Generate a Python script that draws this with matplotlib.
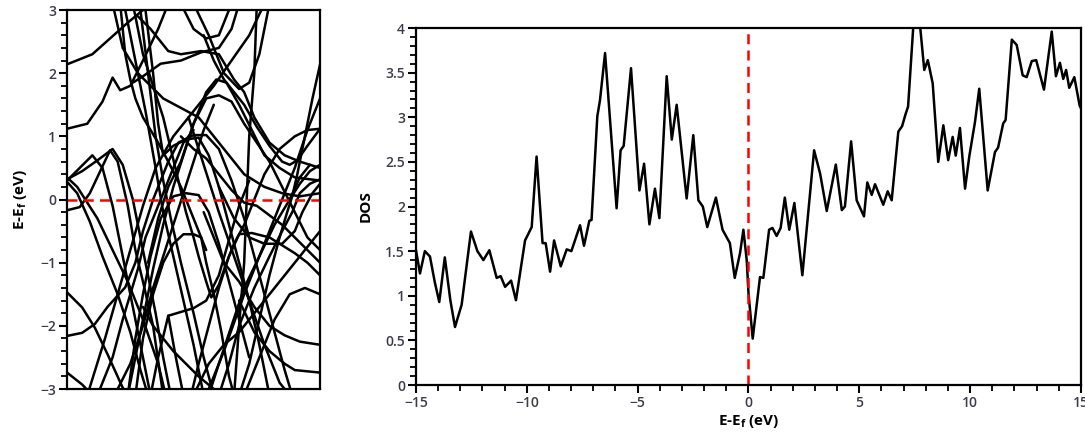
import matplotlib
matplotlib.use("Agg")
import matplotlib.pyplot as plt
from matplotlib.ticker import MultipleLocator, FuncFormatter

plt.rcParams['font.family'] = ['Open Sans', 'DejaVu Sans']

# density of states
dos_e = [-15.0, -14.82, -14.6, -14.37, -14.15, -13.95, -13.7, -13.45, -13.24, -12.94,
         -12.52, -12.23, -11.96, -11.69, -11.36, -11.18, -10.98, -10.71, -10.49, -10.08,
         -9.78, -9.56, -9.29, -9.15, -8.95, -8.77, -8.47, -8.2, -7.99, -7.6,
         -7.42, -7.18, -7.08, -6.82, -6.7, -6.47, -6.22, -5.95, -5.77, -5.63,
         -5.3, -4.92, -4.71, -4.47, -4.22, -4.02, -3.69, -3.46, -3.24, -2.79,
         -2.49, -2.26, -2.06, -1.86, -1.47, -1.17, -0.84, -0.62, -0.38, -0.23,
         -0.08, 0.0, 0.19, 0.52, 0.67, 0.93, 1.08, 1.27, 1.45, 1.64,
         1.84, 2.07, 2.43, 2.96, 3.23, 3.53, 3.94, 4.21, 4.35, 4.63,
         4.88, 5.21, 5.36, 5.56, 5.71, 6.08, 6.28, 6.46, 6.76, 6.93,
         7.08, 7.2, 7.43, 7.6, 7.75, 7.93, 8.09, 8.31, 8.56, 8.79,
         9.01, 9.21, 9.35, 9.54, 9.77, 9.96, 10.22, 10.41, 10.79, 11.12,
         11.26, 11.49, 11.6, 11.88, 12.1, 12.37, 12.55, 12.78, 12.98, 13.33,
         13.68, 13.87, 14.05, 14.2, 14.33, 14.47, 14.7, 14.94, 15.0]
dos_v = [1.51, 1.25, 1.50, 1.44, 1.15, 0.93, 1.43, 0.95, 0.65, 0.90,
         1.72, 1.50, 1.40, 1.51, 1.20, 1.22, 1.10, 1.17, 0.95, 1.62,
         1.77, 2.56, 1.59, 1.59, 1.27, 1.62, 1.33, 1.52, 1.50, 1.79,
         1.56, 1.84, 1.85, 3.01, 3.19, 3.72, 2.89, 1.98, 2.63, 2.68,
         3.55, 2.18, 2.48, 1.80, 2.20, 1.87, 3.46, 2.75, 3.14, 2.09,
         2.80, 2.07, 2.00, 1.77, 2.10, 1.74, 1.59, 1.20, 1.48, 1.74,
         1.40, 1.03, 0.52, 1.21, 1.20, 1.74, 1.76, 1.67, 1.76, 2.10,
         1.74, 2.04, 1.23, 2.63, 2.37, 1.95, 2.47, 1.96, 2.00, 2.73,
         2.07, 1.89, 2.27, 2.13, 2.25, 2.02, 2.17, 2.07, 2.84, 2.90,
         3.03, 3.12, 4.00, 4.35, 4.00, 3.53, 3.64, 3.38, 2.50, 2.91,
         2.52, 2.78, 2.57, 2.88, 2.20, 2.56, 2.95, 3.32, 2.18, 2.61,
         2.66, 2.93, 2.97, 3.87, 3.81, 3.47, 3.45, 3.63, 3.64, 3.31,
         3.96, 3.46, 3.61, 3.43, 3.53, 3.33, 3.45, 3.13, 3.10]

# bands: (k fraction, energy in eV)
bands = [
    ([0, .1, .17, .24, .3, .34], [2.14, 2.3, 2.55, 2.8, 3.0, 3.2]),
    ([0, .08, .14, .18, .21, .25, .3, .36, .4], [1.12, 1.2, 1.55, 1.93, 1.73, 1.8, 2.2, 2.7, 3.1]),
    ([0, .05, .09, .17, .2, .24, .27, .3, .34, .38], [-0.17, -0.12, 0.1, 0.78, 0.6, -0.1, -0.8, -1.3, -2.0, -3.1]),
    ([0, .06, .12, .18, .22, .26, .3, .35, .38, .41], [0.32, 0.45, 0.62, 0.8, 0.55, 0.0, -0.8, -1.8, -2.5, -3.1]),
    ([0, .04, .08, .12, .18, .24, .3, .36, .39], [0.35, 0.2, -0.05, -0.3, -0.8, -1.3, -1.9, -2.6, -3.1]),
    ([0, .04, .09, .14, .2, .25, .29, .32], [0.28, 0.1, -0.35, -0.9, -1.5, -2.1, -2.7, -3.1]),
    ([0, .06, .11, .16, .22, .26], [-1.47, -1.71, -2.03, -2.45, -2.98, -3.2]),
    ([0, .06, .11, .16, .23, .27, .3, .34, .4, .44, .5, .55, .6, .65, .7, .74, .78, .82, .86, .89],
     [-2.16, -2.11, -1.97, -1.7, -1.39, -1.0, -0.5, 0.0, 0.6, 0.9, 1.02, 1.02, 0.8, 0.3, -0.3, -0.9, -1.5,
      -2.1, -2.7, -3.1]),
    ([0, .06, .1], [-2.74, -2.93, -3.1]),
    ([.08, .15, .2, .25, .3, .35, .42, .5, .58, .65, .72, .78],
     [-3.1, -2.2, -1.5, -0.8, -0.1, 0.5, 1.0, 1.4, 1.8, 2.2, 2.6, 3.1]),
    ([.12, .18, .22, .25, .28, .31, .34, .38, .42, .46, .5],
     [-3.1, -2.5, -1.9, -1.5, -1.1, -0.6, -0.3, 0.1, 0.5, 0.9, 1.1]),
    ([.29, .32, .35, .38, .41, .45, .5, .54, .58], [3.0, 2.0, 1.0, 0.3, -0.3, -1.0, -1.8, -2.5, -3.1]),
    ([.31, .34, .36, .38, .42, .47, .52, .56, .6, .64, .68, .72, .76, .8],
     [3.0, 2.0, 1.2, 0.7, 0.85, 0.95, 0.98, 0.7, 0.2, -0.4, -1.0, -1.6, -2.3, -3.1]),
    ([.23, .27, .31, .35, .38, .42, .46, .5, .54], [3.0, 2.2, 1.4, 0.5, -0.2, -0.9, -1.6, -2.3, -3.1]),
    ([.21, .23, .25, .27, .3, .33, .36, .4, .45, .5, .55],
     [3.1, 2.3, 1.9, 1.6, 1.3, 1.1, 0.9, 0.6, 0.2, -0.3, -0.8]),
    ([.5, .56, .62, .68, .72, .76, .8], [3.1, 2.6, 2.0, 1.75, 1.85, 2.3, 3.1]),
    ([.45, .5, .55, .6, .65], [3.1, 2.7, 2.55, 2.6, 3.1]),
    ([.28, .33, .4, .45, .53, .6, .66, .7, .74, .8, .86, .92, .96],
     [2.9, 2.7, 2.35, 2.3, 2.35, 2.3, 1.9, 1.7, 1.3, 0.9, 0.7, 0.6, 0.55]),
    ([.26, .3, .37, .45, .53, .6, .65, .68], [1.85, 1.95, 2.15, 2.2, 2.33, 2.4, 2.7, 3.1]),
    ([.18, .22, .28, .33, .38, .45, .52, .58, .63, .7, .78, .85, .92, 1],
     [3.1, 2.4, 2.0, 1.8, 1.6, 1.45, 1.3, 1.0, 0.75, 0.4, 0.2, 0.1, 0.05, 0.1]),
    ([.32, .36, .4, .45, .5, .55, .6, .65, .7, .75, .8, .85, .9, .95, 1],
     [-1.0, -0.3, 0.2, 0.6, 1.2, 1.6, 1.65, 1.55, 1.2, 0.9, 0.6, 0.2, -0.2, -0.6, -0.8]),
    ([.24, .26, .3, .34, .38, .42, .46, .5, .55, .59, .63, .68, .73, .78, .84, .9, 1],
     [-3.1, -2.7, -1.9, -1.1, -0.4, 0.2, 0.7, 1.2, 1.7, 1.9, 1.85, 1.5, 1.1, 0.7, 0.5, 0.35, 0.3]),
    ([1, .97, .94, .91, .89, .87, .84, .8, .76, .72, .68],
     [2.14, 1.6, 1.0, 0.4, 0.05, -0.2, -0.6, -1.2, -1.9, -2.6, -3.1]),
    ([1, .95, .91, .88, .85, .8, .75, .7, .66, .62, .58, .54],
     [1.12, 0.85, 0.62, 0.55, 0.6, 0.85, 1.15, 1.5, 1.7, 1.9, 2.2, 2.6]),
    ([1, .96, .92, .88, .82, .76, .7, .65, .6, .56], [0.5, 0.55, 0.35, 0.0, -0.4, -0.9, -1.4, -2.0, -2.6, -3.1]),
    ([1, .96, .92, .89, .85, .8, .74, .68, .64, .6], [0.32, 0.25, 0.1, -0.2, -0.5, -0.9, -1.4, -2.0, -2.6, -3.1]),
    ([1, .97, .93, .9, .85, .78, .72, .66, .6], [0.25, 0.1, -0.2, -0.5, -0.7, -0.7, -0.6, -0.3, 0.2]),
    ([.45, .5, .55, .6, .65, .7, .75, .8, .85, .9, .95, 1],
     [1.0, 0.8, 0.65, 0.4, 0.15, -0.05, -0.1, -0.25, -0.4, -0.6, -0.8, -1.0]),
    ([.27, .3, .34, .38, .42, .46, .5, .53, .55, .58, .61, .64, .66],
     [-3.1, -2.2, -1.5, -1.0, -0.7, -0.55, -0.55, -0.6, -1.0, -1.5, -2.1, -2.8, -3.1]),
    ([.26, .3, .34, .38, .41, .44, .47, .5, .52, .55, .57, .6, .63, .66, .7, .74, .78, .84, .9, .95, 1],
     [3.1, 2.3, 1.8, 1.3, 0.8, 0.3, -0.2, -0.6, -0.9, -1.3, -1.55, -1.35, -1.0, -0.7, -0.4, 0.0, 0.4, 0.8,
      1.0, 1.1, 1.12]),
    ([.24, .27, .3, .33, .37, .42, .47, .52, .56, .6, .64, .68, .72],
     [-3.1, -2.2, -1.5, -0.9, -0.3, 0.05, 0.1, 0.07, -0.2, -0.7, -1.3, -1.9, -2.5]),
    ([.49, .52, .56, .6, .64, .68, .73, .8, .86, .9, .95, 1],
     [-3.1, -2.6, -2.0, -1.4, -0.9, -0.55, -0.53, -0.6, -0.75, -0.85, -1.0, -1.2]),
    ([.33, .36, .4, .45, .5, .55, .6, .65, .68, .72], [-3.1, -2.5, -1.84, -1.78, -1.72, -1.6, -1.2, -0.5, -0.1, 0.3]),
    ([.4, .43, .46], [-1.84, -2.5, -3.1]),
    ([.7, .76, .82, .88, .94, 1], [-3.1, -2.5, -1.9, -1.5, -1.4, -1.5]),
    ([.54, .58, .62, .68, .74, .8, .86, .92, 1], [-0.2, -0.6, -1.0, -1.3, -1.7, -2.0, -2.15, -2.25, -2.3]),
    ([.68, .74, .8, .86, .9, .95, 1], [-1.6, -2.1, -2.4, -2.6, -2.7, -2.72, -2.74]),
    ([.55, .62, .7, .78, .85, .9, .95, 1], [-3.1, -2.4, -1.5, -0.7, 0.0, 0.5, 1.1, 1.6]),
    ([.48, .52, .56, .6, .66, .72, .78, .84, .9], [1.3, 0.8, 0.3, -0.2, -0.9, -1.6, -2.3, -2.9, -3.2]),
    ([.5, .56, .62, .68, .74, .8, .86, .92, 1], [-3.1, -2.6, -2.3, -2.1, -1.8, -1.5, -1.2, -0.9, -0.5]),
    ([.3, .34, .38, .42, .47, .52, .58, .63], [-1.7, -2.0, -2.2, -2.4, -2.6, -2.8, -3.0, -3.1]),
    ([.2, .25, .3, .34, .38, .42, .46, .5, .54, .58], [-3.0, -2.6, -2.0, -1.4, -0.9, -0.4, 0.1, 0.6, 1.1, 1.5]),
    ([0, .05, .1, .14, .18, .22, .26, .3, .33], [0.3, 0.5, 0.7, 0.5, -0.1, -0.9, -1.7, -2.5, -3.1]),
    ([.75, .74, .72, .71, .7, .68, .66], [3.1, 2.0, 1.0, 0.0, -1.0, -2.0, -3.1]),
    ([.88, .92, .96, 1], [0.0, 0.25, 0.45, 0.55]),
]

tick_color = '#3c3c4e'

fig = plt.figure(figsize=(10.85, 4.45), dpi=100)

# band structure panel
ax1 = fig.add_axes([0.0618, 0.1258, 0.2332, 0.8517])
for kx, en in bands:
    ax1.plot(kx, en, color='black', lw=1.8, solid_joinstyle='round', solid_capstyle='round')
ax1.axhline(0, color='red', ls=(0, (4, 2.5)), lw=1.8)
ax1.set_xlim(0, 1)
ax1.set_ylim(-3, 3)
ax1.set_xticks([])
ax1.yaxis.set_major_locator(MultipleLocator(1))
ax1.yaxis.set_minor_locator(MultipleLocator(0.2))
ax1.set_ylabel('E-E$_\\mathregular{f}$ (eV)', fontsize=11, fontweight='bold', labelpad=8)

# DOS panel
ax2 = fig.add_axes([0.3834, 0.1348, 0.6129, 0.8022])
ax2.plot(dos_e, dos_v, color='black', lw=1.8, solid_joinstyle='round')
ax2.axvline(0, color='red', ls=(0, (4, 2.5)), lw=1.8)
ax2.set_xlim(-15, 15)
ax2.set_ylim(0, 4)
ax2.xaxis.set_major_locator(MultipleLocator(5))
ax2.xaxis.set_minor_locator(MultipleLocator(1))
ax2.yaxis.set_major_locator(MultipleLocator(0.5))
ax2.yaxis.set_minor_locator(MultipleLocator(0.1))
ax2.yaxis.set_major_formatter(FuncFormatter(lambda v, p: '%g' % v))
ax2.set_xlabel('E-E$_\\mathregular{f}$ (eV)', fontsize=11, fontweight='bold', labelpad=2)
ax2.set_ylabel('DOS', fontsize=11, fontweight='bold', labelpad=9)

for ax in (ax1, ax2):
    for s in ax.spines.values():
        s.set_linewidth(1.6)
    ax.tick_params(which='major', direction='out', length=6, width=1.5,
                   labelsize=10, labelcolor=tick_color, pad=2)
    ax.tick_params(which='minor', direction='out', length=4, width=1.3)
    for lab in ax.get_xticklabels() + ax.get_yticklabels():
        lab.set_fontweight('semibold')

fig.savefig('out.png', dpi=100)
